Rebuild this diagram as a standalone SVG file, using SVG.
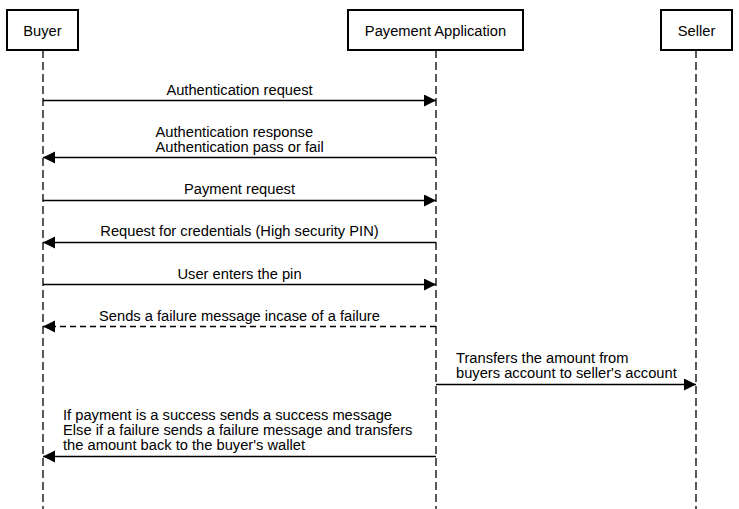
<svg xmlns="http://www.w3.org/2000/svg" width="739" height="509" viewBox="0 0 739 509">
<style>
.box{fill:#fff;stroke:#000;stroke-width:2}
.t{font-family:"Liberation Sans",Arial,sans-serif;font-size:14.7px;fill:#000}
.c{text-anchor:middle}
.life{stroke:#000;stroke-width:1.3;stroke-dasharray:8 4;fill:none}
.msg{stroke:#000;stroke-width:1.3;fill:none}
.dash{stroke-dasharray:6 4}
</style>
<defs>
<marker id="ah" markerUnits="userSpaceOnUse" markerWidth="14" markerHeight="14" refX="12" refY="6" orient="auto">
<path d="M0,0 L12,6 L0,12 Z" fill="#000"/>
</marker>
</defs>
<rect width="739" height="509" fill="#fff"/>
<g id="lifelines">
<line class="life" x1="43" y1="50" x2="43" y2="509"/>
<line class="life" x1="436" y1="50" x2="436" y2="509"/>
<line class="life" x1="696" y1="50" x2="696" y2="509"/>
</g>
<g id="buyer">
<rect class="box" x="7" y="10" width="71" height="40"/>
<text class="t c" x="42.5" y="36">Buyer</text>
</g>
<g id="app">
<rect class="box" x="348" y="10" width="175" height="40"/>
<text class="t c" x="435.5" y="36">Payement Application</text>
</g>
<g id="seller">
<rect class="box" x="661" y="10" width="71" height="40"/>
<text class="t c" x="696.5" y="36">Seller</text>
</g>
<g id="connectors">
<line class="msg" x1="43" y1="100.5" x2="436" y2="100.5" marker-end="url(#ah)"/>
<text class="t c" x="239.5" y="95">Authentication request</text>
<line class="msg" x1="436" y1="157.5" x2="43" y2="157.5" marker-end="url(#ah)"/>
<text class="t" x="155.5" y="137">Authentication response</text>
<text class="t" x="155.5" y="152">Authentication pass or fail</text>
<line class="msg" x1="43" y1="200.5" x2="436" y2="200.5" marker-end="url(#ah)"/>
<text class="t c" x="239.5" y="194">Payment request</text>
<line class="msg" x1="436" y1="242.5" x2="43" y2="242.5" marker-end="url(#ah)"/>
<text class="t c" x="239.5" y="236">Request for credentials (High security PIN)</text>
<line class="msg" x1="43" y1="284.5" x2="436" y2="284.5" marker-end="url(#ah)"/>
<text class="t c" x="239.5" y="279">User enters the pin</text>
<line class="msg dash" x1="436" y1="326.5" x2="43" y2="326.5" marker-end="url(#ah)"/>
<text class="t c" x="239.5" y="321">Sends a failure message incase of a failure</text>
<line class="msg" x1="436" y1="384.5" x2="696" y2="384.5" marker-end="url(#ah)"/>
<text class="t" x="456" y="363">Transfers the amount from</text>
<text class="t" x="456" y="378">buyers account to seller's account</text>
<line class="msg" x1="436" y1="456.5" x2="43" y2="456.5" marker-end="url(#ah)"/>
<text class="t" x="63" y="420">If payment is a success sends a success message</text>
<text class="t" x="63" y="435">Else if a failure sends a failure message and transfers</text>
<text class="t" x="63" y="450">the amount back to the buyer's wallet</text>
</g>
</svg>
